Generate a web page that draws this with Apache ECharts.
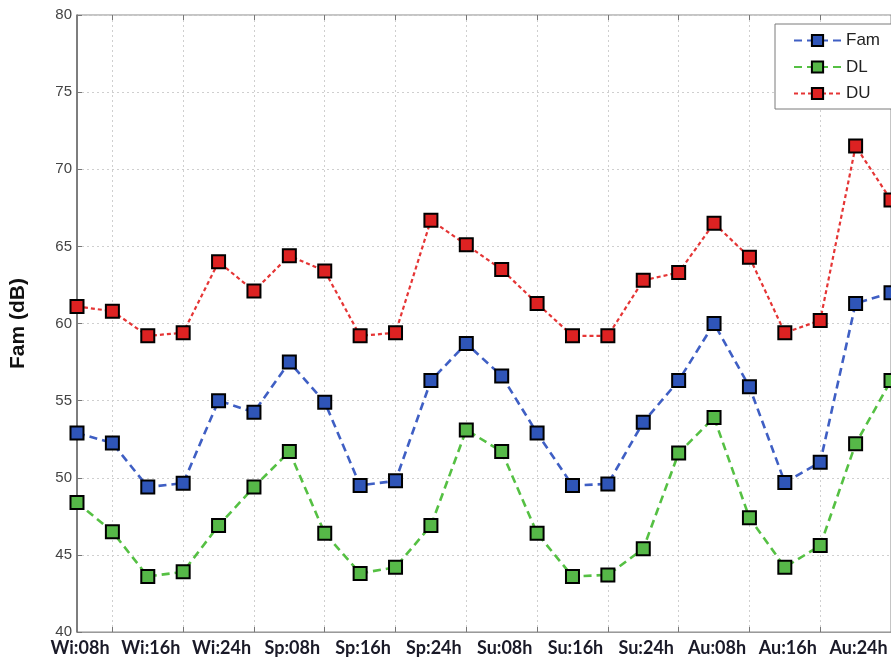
<!DOCTYPE html>
<html>
<head>
<meta charset="utf-8">
<script src="https://cdn.jsdelivr.net/npm/echarts@6/dist/echarts.min.js"></script>
<style>
  html, body { margin: 0; padding: 0; background: #fff; }
  #chart { width: 891px; height: 665px; }
</style>
</head>
<body>
<div id="chart"></div>
<script>
// Time slots: four seasons, every four hours
const seasons = ['Wi', 'Sp', 'Su', 'Au'];
const hours = ['04h', '08h', '12h', '16h', '20h', '24h'];
const categories = [];
seasons.forEach(s => hours.forEach(h => categories.push(s + ':' + h)));

// Noise levels (dB)
const famValues = [52.9, 52.25, 49.4, 49.65, 55.0, 54.25, 57.5, 54.9, 49.5, 49.8, 56.3, 58.7,
                   56.6, 52.9, 49.5, 49.6, 53.6, 56.3, 60.0, 55.9, 49.7, 51.0, 61.3, 62.0];
const dlValues  = [48.4, 46.5, 43.6, 43.9, 46.9, 49.4, 51.7, 46.4, 43.8, 44.2, 46.9, 53.1,
                   51.7, 46.4, 43.6, 43.7, 45.4, 51.6, 53.9, 47.4, 44.2, 45.6, 52.2, 56.3];
const duValues  = [61.1, 60.8, 59.2, 59.4, 64.0, 62.1, 64.4, 63.4, 59.2, 59.4, 66.7, 65.1,
                   63.5, 61.3, 59.2, 59.2, 62.8, 63.3, 66.5, 64.3, 59.4, 60.2, 71.5, 68.0];

const yTicks = { min: 40, max: 80, step: 5 };

const chart = echarts.init(document.getElementById('chart'), null, { renderer: 'canvas' });

const oddIdx = (i) => i % 2 === 1;
const evenIdx = (i) => i % 2 === 0;

function lineSeries(name, data, lineColor, faceColor, dash, width, z) {
  return {
    name: name,
    type: 'line',
    data: data,
    symbol: 'rect',
    symbolSize: 13,
    z: z,
    itemStyle: { color: faceColor, borderColor: '#000', borderWidth: 2 },
    lineStyle: { color: lineColor, width: width, type: dash },
    emphasis: { disabled: true },
    animation: false
  };
}

chart.setOption({
  animation: false,
  backgroundColor: '#fff',
  grid: {
    left: 75, top: 15, height: 617, width: 824,
    show: true, borderColor: '#8a8a8a', borderWidth: 1, backgroundColor: 'transparent'
  },
  legend: {
    orient: 'vertical',
    left: 775, top: 24,
    padding: [8, 34, 7, 18],
    itemWidth: 47, itemHeight: 14, itemGap: 9.5,
    backgroundColor: '#fff',
    borderColor: '#7a7a7a', borderWidth: 1,
    textStyle: { fontFamily: 'Liberation Sans', fontSize: 17, color: '#222', lineHeight: 14 },
    data: ['Fam', 'DL', 'DU']
  },
  xAxis: [{
    type: 'category',
    data: categories,
    boundaryGap: false,
    axisLine: { show: true, lineStyle: { color: '#9a9a9a', width: 1 } },
    axisTick: { show: true, inside: true, length: 5, interval: oddIdx, lineStyle: { color: '#777' } },
    axisLabel: {
      // each 8-hour label is printed half a step before its tick
      interval: evenIdx,
      showMinLabel: true,
      showMaxLabel: true,
      hideOverlap: false,
      formatter: (value, index) => categories[index + 1] || '',
      margin: 7,
      fontFamily: 'Lato', fontWeight: 'bold', fontSize: 18, color: '#1a1a28',
      lineHeight: 18,
      padding: [0, 0, 0, 6]
    },
    splitLine: { show: true, interval: oddIdx, lineStyle: { color: '#cfcfcf', type: [2, 3], width: 1 } }
  }, {
    type: 'category',
    data: categories,
    boundaryGap: false,
    position: 'top',
    axisLine: { show: false },
    axisTick: { show: true, inside: true, length: 5, interval: oddIdx, lineStyle: { color: '#777' } },
    axisLabel: { show: false },
    splitLine: { show: false }
  }],
  yAxis: {
    type: 'value',
    min: yTicks.min, max: yTicks.max, interval: yTicks.step,
    name: 'Fam (dB)',
    nameLocation: 'middle',
    nameGap: 48,
    nameRotate: 90,
    nameTextStyle: { fontFamily: 'Liberation Sans', fontWeight: 'bold', fontSize: 21, color: '#111' },
    axisLine: { show: true, lineStyle: { color: '#666', width: 1.5 } },
    axisTick: { show: true, inside: true, length: 5, lineStyle: { color: '#777' } },
    axisLabel: { margin: 5, fontFamily: 'Liberation Sans', fontSize: 15, color: '#444' },
    splitLine: { show: true, lineStyle: { color: '#cfcfcf', type: [2, 3], width: 1 } }
  },
  series: [
    lineSeries('Fam', famValues, '#3f5fc4', '#2f55b8', [8, 5], 2.6, 3),
    lineSeries('DL', dlValues, '#55c043', '#56b848', [8, 5], 2.6, 2),
    lineSeries('DU', duValues, '#e53535', '#dd2222', [4, 3], 2.2, 4)
  ]
});
</script>
</body>
</html>
